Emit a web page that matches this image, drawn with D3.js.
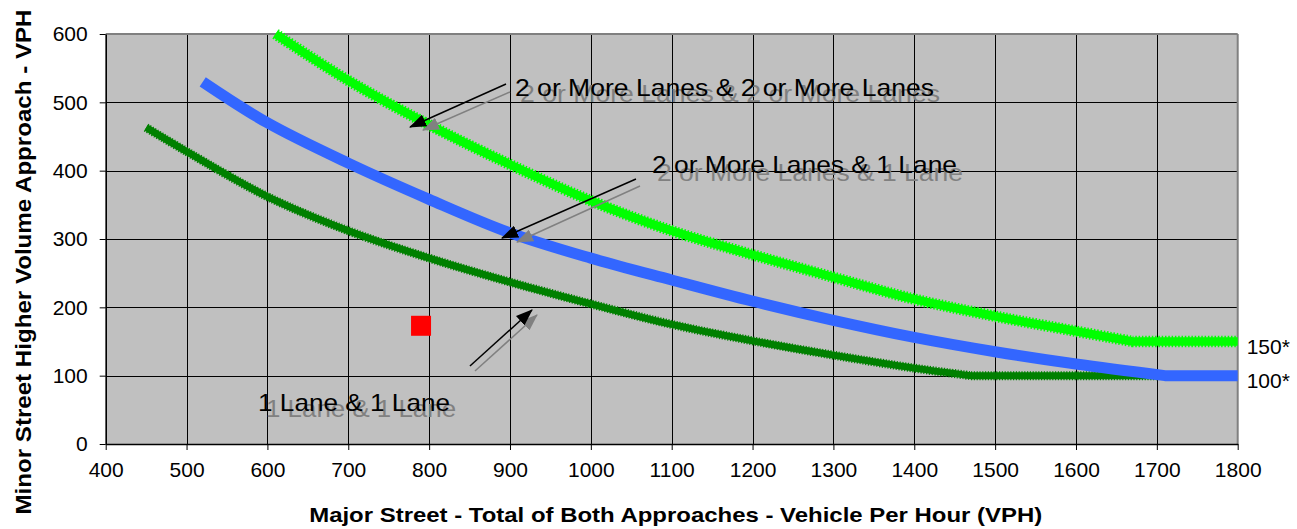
<!DOCTYPE html>
<html>
<head>
<meta charset="utf-8">
<script src="https://cdn.jsdelivr.net/npm/d3@7"></script>
<style>
  html, body { margin: 0; padding: 0; background: #fff; }
  svg { display: block; }
  text { font-family: Arial, "Liberation Sans", sans-serif; }
</style>
</head>
<body>
<svg id="chart" width="1297" height="529"></svg>
<script>
// ---------- data ----------
// 2 or More Lanes & 2 or More Lanes
const majorTwoTwo = [610, 700, 800, 900, 1000, 1100, 1200, 1300, 1400, 1500, 1600, 1670, 1800];
const minorTwoTwo = [600, 532, 467, 409, 356, 312, 277, 244, 212, 187, 165, 150, 150];
// 2 or More Lanes & 1 Lane
const majorTwoOne = [520, 600, 700, 800, 900, 1000, 1100, 1200, 1300, 1400, 1500, 1600, 1710, 1800];
const minorTwoOne = [530, 470, 411, 358, 309, 272, 240, 209, 181, 156, 135, 117, 100, 100];
// 1 Lane & 1 Lane
const majorOneOne = [450, 500, 600, 700, 800, 900, 1000, 1100, 1200, 1300, 1400, 1470, 1700];
const minorOneOne = [463, 428, 362, 312, 272, 237, 205, 175, 151, 130, 111, 100, 100];
// observed point
const observedMajor = [790];
const observedMinor = [173];
// ticks
const xTickValues = [400, 500, 600, 700, 800, 900, 1000, 1100, 1200, 1300, 1400, 1500, 1600, 1700, 1800];
const yTickValues = [0, 100, 200, 300, 400, 500, 600];
// threshold labels at right edge
const thresholdValues = [150, 100];
const thresholdLabels = ["150*", "100*"];
// annotation texts
const annotationTexts = ["2 or More Lanes & 2 or More Lanes", "2 or More Lanes & 1 Lane", "1 Lane & 1 Lane"];
const xTitle = "Major Street - Total of Both Approaches - Vehicle Per Hour (VPH)";
const yTitle = "Minor Street Higher Volume Approach - VPH";

// ---------- layout ----------
const L = 105.7, R = 1237.7, T = 34, B = 444;
const svg = d3.select("#chart");
const x = d3.scaleLinear().domain([400, 1800]).range([L, R]);
const y = d3.scaleLinear().domain([0, 600]).range([B, T]);

// plot background
svg.append("rect").attr("x", L).attr("y", T).attr("width", R - L).attr("height", B - T)
  .attr("fill", "#c0c0c0");

// grid
const grid = svg.append("g");
grid.selectAll(".vg").data(xTickValues.slice(1, -1)).join("line")
  .attr("x1", d => Math.round(x(d)) + 0.5).attr("x2", d => Math.round(x(d)) + 0.5)
  .attr("y1", T).attr("y2", B).attr("stroke", "#000").attr("stroke-width", 1);
grid.selectAll(".hg").data(yTickValues.slice(1, -1)).join("line")
  .attr("y1", d => Math.round(y(d)) + 0.5).attr("y2", d => Math.round(y(d)) + 0.5)
  .attr("x1", L).attr("x2", R).attr("stroke", "#000").attr("stroke-width", 1);

// border top/right gray
svg.append("line").attr("x1", L).attr("x2", R).attr("y1", T).attr("y2", T)
  .attr("stroke", "#808080").attr("stroke-width", 2);
svg.append("line").attr("x1", R).attr("x2", R).attr("y1", T).attr("y2", B)
  .attr("stroke", "#808080").attr("stroke-width", 2);

// axes
const xAxis = d3.axisBottom(x).tickValues(xTickValues).tickSize(6).tickSizeOuter(0).tickPadding(8)
  .tickFormat(d3.format("d"));
const yAxis = d3.axisLeft(y).tickValues(yTickValues).tickSize(6).tickSizeOuter(0).tickPadding(12)
  .tickFormat(d3.format("d"));
const gx = svg.append("g").attr("transform", `translate(0,${B})`).call(xAxis);
const gy = svg.append("g").attr("transform", `translate(${L},0)`).call(yAxis);
[gx, gy].forEach(g => {
  g.select(".domain").attr("stroke", "#000").attr("stroke-width", 1.6);
  g.selectAll(".tick line").attr("stroke", "#000").attr("stroke-width", 1);
  g.selectAll(".tick text").attr("fill", "#000").style("font-size", "21px")
    .style("font-family", "Arial, 'Liberation Sans', sans-serif");
});
gx.selectAll(".tick text").attr("dy", "0.9em");

// markers for arrows
const ghost = "#808080";
const defs = svg.append("defs");
function addMarker(id, color) {
  defs.append("marker").attr("id", id).attr("viewBox", "0 0 16 12")
    .attr("refX", 15).attr("refY", 6).attr("markerWidth", 17).attr("markerHeight", 13)
    .attr("markerUnits", "userSpaceOnUse").attr("orient", "auto")
    .append("path").attr("d", "M0,0 L16,6 L0,12 Z").attr("fill", color);
}
addMarker("headBlack", "#000");
addMarker("headGhost", ghost);

// annotation anchors in data units: [major, minor, text width px]
const ghostTextPos = [[912.4, 500.5, 420], [1081.8, 384.9, 306], [598.3, 39.9, 190]];
const blackTextPos = [[906.2, 509.3, 419], [1075.6, 396.6, 305], [588.4, 48.7, 192]];
const ghostArrows = [[900, 515.1, 792.4, 459.5], [1060.8, 377.6, 908.7, 295.6], [856.7, 106.8, 933.4, 188.8]];
const blackArrows = [[895.1, 526.8, 776.4, 463.9], [1055.8, 387.8, 890.1, 301.5], [850.5, 114.1, 927.2, 196.1]];

// curve path: smooth until the plateau starts, then straight
const smooth = d3.line().x(d => x(d[0])).y(d => y(d[1])).curve(d3.curveCatmullRom.alpha(0.5));
function curvePath(pts) {
  const last = pts[pts.length - 1][1];
  const k = pts.findIndex(p => p[1] === last);
  let d = smooth(pts.slice(0, k + 1));
  pts.slice(k + 1).forEach(p => { d += `L${x(p[0])},${y(p[1])}`; });
  return d;
}
const oneOne = curvePath(d3.zip(majorOneOne, minorOneOne));
const twoOne = curvePath(d3.zip(majorTwoOne, minorTwoOne));
const twoTwo = curvePath(d3.zip(majorTwoTwo, minorTwoTwo));

const lines = svg.append("g").attr("fill", "none").attr("stroke-linejoin", "round");
// 1 Lane & 1 Lane (dark green, serrated)
lines.append("path").attr("d", oneOne).attr("stroke", "#008000").attr("stroke-width", 7);
lines.append("path").attr("d", oneOne).attr("stroke", "#008000").attr("stroke-width", 9)
  .attr("stroke-dasharray", "1.2 1.6");
// 2+ & 2+ (bright green, serrated)
lines.append("path").attr("d", twoTwo).attr("stroke", "#00ff00").attr("stroke-width", 8.5);
lines.append("path").attr("d", twoTwo).attr("stroke", "#00ff00").attr("stroke-width", 11.5)
  .attr("stroke-dasharray", "1.5 1.8");
// 2+ & 1 (blue)
lines.append("path").attr("d", twoOne).attr("stroke", "#3366ff").attr("stroke-width", 11);

// observed point
svg.append("g").selectAll("rect").data(d3.zip(observedMajor, observedMinor)).join("rect")
  .attr("x", d => x(d[0]) - 10).attr("y", d => y(d[1]) - 10)
  .attr("width", 20).attr("height", 20).attr("fill", "#ff0000");

// annotations (ghost copies first, then black)
const ann = svg.append("g");
annotationTexts.forEach((t, i) => {
  const g = ghostTextPos[i];
  ann.append("text").attr("x", x(g[0])).attr("y", y(g[1])).text(t)
    .attr("fill", ghost).style("font-size", "24px")
    .attr("textLength", g[2]).attr("lengthAdjust", "spacingAndGlyphs");
  const ga = ghostArrows[i];
  ann.append("line").attr("x1", x(ga[0])).attr("y1", y(ga[1])).attr("x2", x(ga[2])).attr("y2", y(ga[3]))
    .attr("stroke", ghost).attr("stroke-width", 1.5).attr("marker-end", "url(#headGhost)");
});
annotationTexts.forEach((t, i) => {
  const b = blackTextPos[i];
  ann.append("text").attr("x", x(b[0])).attr("y", y(b[1])).text(t)
    .attr("fill", "#000").style("font-size", "24px")
    .attr("textLength", b[2]).attr("lengthAdjust", "spacingAndGlyphs");
  const ba = blackArrows[i];
  ann.append("line").attr("x1", x(ba[0])).attr("y1", y(ba[1])).attr("x2", x(ba[2])).attr("y2", y(ba[3]))
    .attr("stroke", "#000").attr("stroke-width", 1.5).attr("marker-end", "url(#headBlack)");
});

// threshold labels
svg.append("g").selectAll("text").data(d3.zip(thresholdValues, thresholdLabels)).join("text")
  .attr("x", x(1800) + 9).attr("y", d => y(d[0]) + 12)
  .text(d => d[1]).attr("fill", "#000").style("font-size", "21px");

// axis titles
svg.append("text").attr("x", (L + R) / 2 + 4).attr("y", 522).attr("text-anchor", "middle")
  .style("font-size", "21px").style("font-weight", "bold").text(xTitle)
  .attr("textLength", 733).attr("lengthAdjust", "spacingAndGlyphs");
svg.append("text").attr("transform", "rotate(-90)").attr("x", -262).attr("y", 31)
  .attr("text-anchor", "middle").style("font-size", "22px").style("font-weight", "bold").text(yTitle)
  .attr("textLength", 505).attr("lengthAdjust", "spacingAndGlyphs");
</script>
</body>
</html>
